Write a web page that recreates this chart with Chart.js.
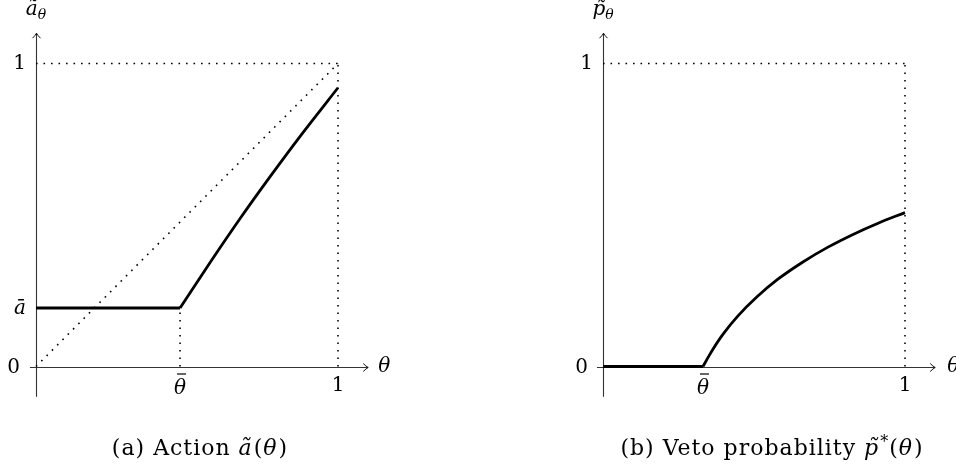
<!DOCTYPE html>
<html><head><meta charset="utf-8">
<script src="https://cdn.jsdelivr.net/npm/chart.js@4/dist/chart.umd.min.js"></script>
<style>
html,body{margin:0;padding:0;background:#fff;}
#wrap{position:relative;width:956px;height:469px;overflow:hidden;background:#fff;}
canvas{position:absolute;top:0;}
#ca{left:0;}
#cb{left:478px;}
</style></head><body>
<div id="wrap">
<canvas id="ca" width="478" height="469" style="width:478px;height:469px"></canvas>
<canvas id="cb" width="478" height="469" style="width:478px;height:469px"></canvas>
</div>
<script>
// ---------- Panel (a): Action ----------
const thetaBarA = 0.477;
const aBar = 0.193;
const actionX = [0.477, 0.577, 0.677, 0.777, 0.877, 1.0];
const actionY = [0.193, 0.344, 0.490, 0.629, 0.763, 0.920];
// ---------- Panel (b): Veto probability ----------
const thetaBarB = 0.331;
const vetoX = [0.331, 0.348, 0.364, 0.397, 0.447, 0.510, 0.579, 0.662, 0.745, 0.828, 0.911, 1.000];
const vetoY = [0.000, 0.030, 0.057, 0.106, 0.167, 0.230, 0.288, 0.345, 0.394, 0.436, 0.473, 0.508];
// ---------- Labels ----------
const captionA = [['(a) Action ', 'n'], ['ã', 'i'], ['(', 'n'], ['θ', 'i'], [')', 'n']];
const captionB = [['(b) Veto probability ', 'n'], ['p\u0303', 'i'], ['*', 's'], ['(', 'n'], ['θ', 'i'], [')', 'n']];
const yAxisMainA = 'ã', yAxisMainB = 'p\u0303', yAxisSub = 'θ';
const xAxisLabel = 'θ';
const thetaLabel = 'θ';
const aBarLabel = 'ā';

const SERIF = '"DejaVu Serif", "Liberation Serif", serif';
const DOT = [1.6, 5.9];
const CAP_SPACING = 1; // px between caption letters

function pts(xs, ys){ return xs.map((x,i)=>({x:x, y:ys[i]})); }

function line(ctx, x1, y1, x2, y2){ ctx.beginPath(); ctx.moveTo(x1,y1); ctx.lineTo(x2,y2); ctx.stroke(); }
function text(ctx, s, x, y, font, align, base){
  ctx.font = font; ctx.textAlign = align || 'center'; ctx.textBaseline = base || 'middle';
  ctx.fillStyle = '#000'; ctx.fillText(s, x, y);
}
function segFont(kind){
  if (kind === 'i') return 'italic 22px ' + SERIF;
  if (kind === 's') return '16px ' + SERIF;
  return '22px ' + SERIF;
}
function drawCaption(ctx, segs, cx, base){
  const hasLS = ('letterSpacing' in ctx);
  if (hasLS) ctx.letterSpacing = CAP_SPACING + 'px';
  let total = 0;
  segs.forEach(s => { ctx.font = segFont(s[1]); total += ctx.measureText(s[0]).width + (s[1]==='i' ? 1 : 0); });
  let x = cx - total / 2;
  segs.forEach(s => {
    ctx.font = segFont(s[1]); ctx.textAlign = 'left'; ctx.textBaseline = 'alphabetic'; ctx.fillStyle = '#000';
    ctx.fillText(s[0], x, s[1]==='s' ? base - 8 : base);
    x += ctx.measureText(s[0]).width + (s[1]==='i' ? 1 : 0);
  });
  if (hasLS) ctx.letterSpacing = '0px';
}

function makePlugin(p){
  return {
    id: 'deco' + p.key,
    beforeDatasetsDraw(chart){
      const ctx = chart.ctx, xs = chart.scales.x, ys = chart.scales.y;
      const x0 = Math.round(xs.getPixelForValue(0)) + 0.5;
      const y0 = Math.round(ys.getPixelForValue(0)) + 0.5;
      const xl = xs.getPixelForValue(xs.min), xr = xs.getPixelForValue(xs.max);
      const yt = ys.getPixelForValue(ys.max), yb = ys.getPixelForValue(ys.min);
      ctx.save();
      ctx.strokeStyle = '#333'; ctx.lineWidth = 1.1; ctx.setLineDash([]);
      line(ctx, xl, y0, xr, y0);
      line(ctx, x0, yb, x0, yt);
      ctx.lineWidth = 1; ctx.strokeStyle = '#111';
      ctx.beginPath(); ctx.moveTo(xr-5, y0-4); ctx.quadraticCurveTo(xr-2, y0-1, xr, y0); ctx.quadraticCurveTo(xr-2, y0+1, xr-5, y0+4); ctx.stroke();
      ctx.beginPath(); ctx.moveTo(x0-4, yt+5); ctx.quadraticCurveTo(x0-1, yt+2, x0, yt); ctx.quadraticCurveTo(x0+1, yt+2, x0+4, yt+5); ctx.stroke();
      ctx.restore();
    },
    afterDatasetsDraw(chart){
      const ctx = chart.ctx, xs = chart.scales.x, ys = chart.scales.y;
      const x0 = xs.getPixelForValue(0), y0 = ys.getPixelForValue(0);
      const xr = xs.getPixelForValue(xs.max), yt = ys.getPixelForValue(ys.max);
      const fUp = '20px ' + SERIF, fIt = 'italic 20px ' + SERIF, fSub = 'italic 14px ' + SERIF;
      ctx.save();
      text(ctx, '0', x0 - p.zeroGap, y0 + 1, fUp, 'right');
      text(ctx, '1', x0 - 10, ys.getPixelForValue(1), fUp, 'right');
      if (p.yBar !== undefined) text(ctx, aBarLabel, x0 - 10, ys.getPixelForValue(p.yBar) + 1, fIt, 'right');
      const tx = xs.getPixelForValue(p.xBar);
      text(ctx, thetaLabel, tx, y0 + 22, fIt, 'center');
      ctx.strokeStyle = '#000'; ctx.lineWidth = 1.2;
      line(ctx, tx - 3, y0 + 7.5, tx + 6, y0 + 7.5);
      text(ctx, '1', xs.getPixelForValue(1), y0 + 19, fUp, 'center');
      text(ctx, xAxisLabel, xr + p.thGap, y0, fIt, 'left');
      ctx.font = fIt; const w1 = ctx.measureText(p.yMain).width;
      ctx.font = fSub; const w2 = ctx.measureText(yAxisSub).width;
      const sx = x0 - (w1 + w2) / 2;
      text(ctx, p.yMain, sx, yt - 18, fIt, 'left', 'alphabetic');
      text(ctx, yAxisSub, sx + w1, yt - 14, fSub, 'left', 'alphabetic');
      drawCaption(ctx, p.caption, p.capX - p.canvasLeft, 455);
      ctx.restore();
    }
  };
}

function build(id, datasets, padding, plug){
  return new Chart(document.getElementById(id), {
    type: 'line',
    data: { datasets: datasets },
    options: {
      responsive: false, animation: false, devicePixelRatio: 1,
      layout: { padding: padding },
      plugins: { legend: {display:false}, tooltip: {enabled:false}, title:{display:false} },
      elements: { point: { radius: 0, hoverRadius: 0 } },
      events: [],
      scales: {
        x: { type: 'linear', min: -0.02, max: 1.1, display: false },
        y: { type: 'linear', min: -0.1, max: 1.1, display: false }
      }
    },
    plugins: [plug]
  });
}

const solid = (data, mono) => ({ data: data, borderColor: '#000', borderWidth: 2.8, fill: false,
  cubicInterpolationMode: mono ? 'monotone' : 'default', tension: 0, borderCapStyle: 'butt', borderJoinStyle: 'round' });
const dotted = (data) => ({ data: data, borderColor: '#000', borderWidth: 1.6, borderDash: DOT, fill: false, borderCapStyle: 'butt' });

build('ca', [
  solid(pts([0, thetaBarA], [aBar, aBar]), false),
  solid(pts(actionX, actionY), true),
  dotted(pts([0, 1], [0, 1])),
  dotted(pts([0, 1], [1, 1])),
  dotted(pts([1, 1], [0, 1])),
  dotted(pts([thetaBarA, thetaBarA], [0, aBar]))
], { left: 29.96, right: 109.8, top: 33.2, bottom: 72.2 },
  makePlugin({ key: 'a', xBar: thetaBarA, yBar: aBar, yMain: yAxisMainA, zeroGap: 16, thGap: 10, caption: captionA, capX: 200, canvasLeft: 0 }));

build('cb', [
  solid(pts([0, thetaBarB], [0, 0]), false),
  solid(pts(vetoX, vetoY), true),
  dotted(pts([0, 1], [1, 1])),
  dotted(pts([1, 1], [0, 1]))
], { left: 118.96, right: 20.8, top: 33.2, bottom: 72.2 },
  makePlugin({ key: 'b', xBar: thetaBarB, yMain: yAxisMainB, zeroGap: 15, thGap: 12, caption: captionB, capX: 772, canvasLeft: 478 }));
</script>
</body></html>
